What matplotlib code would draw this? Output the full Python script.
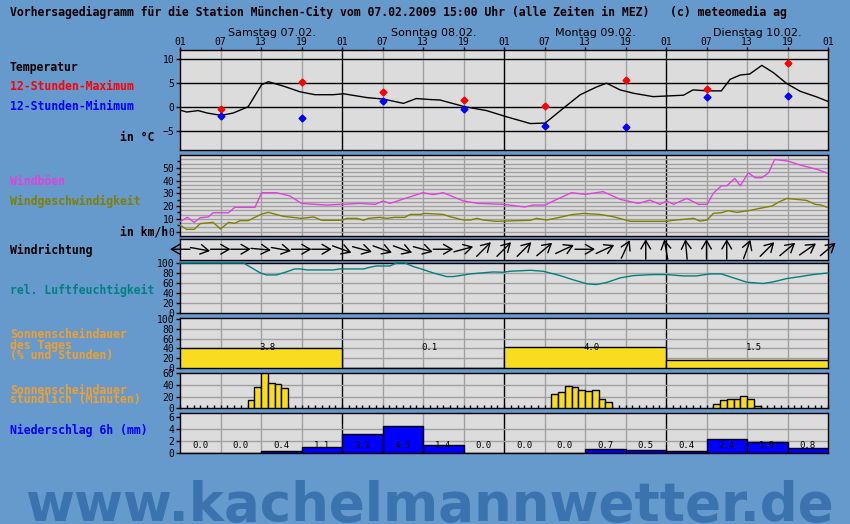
import numpy as np
import matplotlib
matplotlib.use('Agg')
import matplotlib.pyplot as plt
from matplotlib import transforms

# --- data (hours after Sat 01:00) ---
temp_h = [0, 1, 2.7, 4, 6.1, 7.9, 10.1, 12.1, 13.1, 15.3, 17.8, 20, 22.7, 24.2, 27.7, 30.1, 33.1, 35, 37,
          38.5, 42.2, 45.4, 48.4, 51.9, 54.1, 56.8, 59.3, 61.7, 63.2, 65.2, 67.2, 70.1, 74.6, 76, 77, 78.3,
          80.2, 81.5, 83, 84.4, 86.2, 87.9, 89.9, 91.9, 94.4, 96]
temp_v = [-0.7, -1.1, -0.8, -1.3, -1.8, -1.3, 0.0, 4.6, 5.2, 4.3, 3.1, 2.5, 2.5, 2.7, 1.9, 1.6, 0.7, 1.7, 1.5,
          1.4, 0.0, -0.8, -2.1, -3.5, -3.4, -0.3, 2.5, 4.1, 4.9, 3.5, 2.8, 2.1, 2.4, 3.5, 3.4, 3.3,
          3.3, 5.7, 6.6, 6.8, 8.6, 7.1, 4.8, 3.2, 2.0, 1.1]
ext_h = [6, 18, 30, 42, 54, 66, 78, 90]
tmax = [-0.4, 5.2, 3.1, 1.5, 0.2, 5.5, 3.6, 9.1]
tmin = [-1.9, -2.3, 1.25, -0.4, -4.0, -4.2, 2.1, 2.3]

gust_h = [0, 1.1, 2.1, 3, 4.2, 4.9, 7.2, 8.1, 11.1, 12.1, 14.3, 16.3, 18, 21.7, 24, 26.7, 28.9, 30.1, 31.1, 34.1,
          36, 37.5, 39, 42, 44.2, 47.9, 51.1, 52.3, 54.1, 55.3, 58, 60, 62.7, 65.2, 67.9, 69.6, 71.1, 72.1, 73.1,
          75.1, 76.8, 78.1, 79, 80.2, 81, 82.2, 83, 84.2, 85.2, 86.2, 87.2, 88.1, 90.1, 91.9, 94.4, 96]
gust_v = [7.8, 11.2, 7.3, 10.9, 11.5, 14.8, 14.8, 19, 19, 30.5, 30.5, 27.9, 22.1, 20.8, 21.4, 22.1, 21.4, 24, 22.1, 27.3,
          30.5, 29, 30.5, 24, 22.1, 21.4, 19.3, 20.8, 20.8, 24, 30.5, 29.2, 31.3, 25.3, 22.1, 24.7, 21.4, 24, 21.4,
          26, 21.4, 21.4, 30, 35.9, 35.9, 41.7, 35.9, 46.1, 42.2, 42.2, 46.1, 56.5, 55.2, 52.1, 48.7, 45.6]

wind_h = [0, 1, 2.1, 3, 4.9, 6, 7.2, 8.1, 8.9, 10.1, 12.1, 13.1, 15.3, 18, 19.8, 21, 24, 24.7, 26.2, 27.2,
          27.9, 29.6, 30.6, 31.8, 33.3, 34.1, 35.6, 36.3, 39, 40, 42, 43, 44, 44.9, 46.9, 51.9, 52.8, 54.3, 56, 58,
          59.8, 62.2, 64.2, 66.7, 70.1, 72.1, 73.1, 75.1, 76.1, 77, 78.1, 79, 80.2, 81.2, 82.5, 84.2, 85.4, 87.7,
          88.6, 89.9, 90.9, 92.8, 94.1, 95, 96]
wind_v = [5.2, 1.8, 1.8, 6.3, 7.3, 2.1, 7.3, 6.5, 8.6, 8.6, 13.8, 15.1, 12, 10.4, 11.5, 8.9, 8.9, 10.4, 10.4, 8.9,
          10.4, 11.2, 10.4, 11.2, 11.2, 13.5, 13.5, 14.3, 13.5, 11.7, 9.1, 9.1, 10.4, 9.1, 8.1, 8.9, 10.4, 9.1, 10.9, 13.3,
          14.3, 13.5, 11.7, 8.1, 8.1, 8.1, 8.9, 9.9, 10.4, 8.3, 9.1, 14.3, 14.8, 16.4, 15.1, 16.4, 17.7, 20.1,
          22.9, 26, 25.5, 24.5, 21.4, 20.8, 18.8]

# arrow direction on screen (degrees, 0 = pointing right), every 3 hours
dir_h = list(range(0, 97, 3))
wind_dir = [180, -10, 0, 0, -5, -10, 0, 0, -20, -15, -20, -20, -15, 0, 15, 45, 45, 45, 40, 25, 0, 25, 65, 90,
            100, 95, 90, 90, 70, 45, 40, 35, 40]

hum_h = [0, 9.4, 11.9, 12.8, 14.3, 15.6, 17, 17.9, 18.8, 22.7, 23.7, 27.2, 28.1, 29.1, 31.1, 32.1, 33.3, 34.6,
         35.6, 37.5, 39.5, 40.5, 43, 46.4, 47.9, 48.9, 51.9, 53.8, 56.3, 58.3, 60.3, 61.7, 63.2, 65.2, 67.2, 70.1,
         72.1, 74.6, 76.5, 78.5, 80.2, 82, 84, 86.4, 87.9, 89.9, 91.9, 93.8, 96]
hum_v = [100, 100, 80.3, 76.3, 76.3, 81.6, 88.2, 88.2, 86.2, 86.2, 88.2, 88.2, 91.4, 94.1, 94.1, 100, 100, 92.8,
         88.8, 80.3, 73, 73, 78.3, 82.2, 81.6, 83.6, 85.5, 83.6, 75, 66.4, 58.6, 57.2, 61.2, 70.4, 75, 77,
         77, 74.3, 74.3, 78.3, 78.3, 70.4, 61.8, 59.2, 62.5, 69.1, 73, 77, 80.3]

day_start = [0, 24, 48, 72]
day_names = ['Samstag 07.02.', 'Sonntag 08.02.', 'Montag 09.02.', 'Dienstag 10.02.']
sun_day_pct = [40, 1, 42.6, 16.2]
sun_day_hours = ['3.8', '0.1', '4.0', '1.5']

sun_hr_h = [10, 11, 12, 13, 14, 15, 39, 55, 56, 57, 58, 59, 60, 61, 62, 63, 79, 80, 81, 82, 83, 84, 85]
sun_hr_min = [14.3, 36, 60, 42.9, 41.1, 34.3, 1, 24, 27.4, 37.7, 36, 30.9, 29.7, 30.9, 16, 10.3,
              6.9, 14.3, 16, 16, 20.6, 16, 4]

precip_h = list(range(0, 96, 6))
precip = [0.0, 0.0, 0.4, 1.1, 3.1, 4.5, 1.4, 0.0, 0.0, 0.0, 0.7, 0.5, 0.4, 2.4, 1.9, 0.8]

hour_labels = ['01', '07', '13', '19'] * 4 + ['01']

BG = '#6699cc'
PANEL = '#dcdcdc'
GRID = '#a0a0a0'
YELLOW = '#f8dc20'
ORANGE = '#f0a030'
MAGENTA = '#dd44dd'
OLIVE = '#808000'
TEAL = '#008080'
W, H = 850, 524
MONO = 'DejaVu Sans Mono'

plt.rcParams['font.family'] = MONO

fig = plt.figure(figsize=(W / 100, H / 100), dpi=100, facecolor=BG)


def panel(y_top, y_bot, ylim):
    ax = fig.add_axes([180 / W, 1 - y_bot / H, 648 / W, (y_bot - y_top) / H])
    ax.set_facecolor(PANEL)
    ax.set_xlim(0, 96)
    ax.set_ylim(*ylim)
    for h in range(6, 96, 6):
        ax.axvline(h, color='k' if h % 24 == 0 else GRID, lw=1, zorder=1)
    ax.set_xticks([])
    for s in ax.spines.values():
        s.set_color('k')
        s.set_linewidth(1)
    ax.tick_params(axis='y', labelsize=7, length=3, pad=1, width=1)
    return ax


def hgrid(ax, vals, color=GRID):
    for v in vals:
        ax.axhline(v, color=color, lw=1, zorder=1)


# temperature
axt = panel(50, 150, (-9, 11.8))
hgrid(axt, [-5, 0, 5, 10], 'k')
axt.set_yticks([-5, 0, 5, 10])
axt.plot(temp_h, temp_v, color='k', lw=1, zorder=3)
axt.plot(ext_h, tmax, 'D', color='red', ms=3.5, zorder=4)
axt.plot(ext_h, tmin, 'D', color='blue', ms=3.5, zorder=4)
axt.set_xticks(range(0, 97, 6))
axt.set_xticklabels(hour_labels)
axt.xaxis.set_ticks_position('top')
axt.tick_params(axis='x', labelsize=7, length=2, pad=0.5, width=1)
for d, name in zip(day_start, day_names):
    axt.text(d + 13.6, 1.17, name, transform=axt.get_xaxis_transform(), ha='center', va='center',
             fontsize=8, family='DejaVu Sans')

# wind
axw = panel(155, 236, (-3.4, 60))
hgrid(axw, np.arange(0, 60, 10 / 3))
axw.set_yticks(range(0, 60, 10))
axw.set_yticks(range(0, 60, 5), minor=True)
axw.tick_params(axis='y', which='minor', length=2, width=1)
axw.plot(gust_h, gust_v, color=MAGENTA, lw=1, zorder=3)
axw.plot(wind_h, wind_v, color=OLIVE, lw=1, zorder=3)

# wind direction
axd = panel(238.5, 260, (-1, 1))
axd.set_yticks([])
for h, ang in zip(dir_h, wind_dir):
    a = np.deg2rad(ang)
    dx, dy = 10 * np.cos(a), 10 * np.sin(a)
    head = transforms.offset_copy(axd.transData, fig=fig, x=dx, y=dy, units='dots')
    tail = transforms.offset_copy(axd.transData, fig=fig, x=-dx, y=-dy, units='dots')
    axd.annotate('', xy=(h, 0), xycoords=head, xytext=(h, 0), textcoords=tail, annotation_clip=False,
                 arrowprops=dict(arrowstyle='->,head_length=0.6,head_width=0.35', color='k', lw=1,
                                 shrinkA=0, shrinkB=0))

# humidity
axh = panel(263, 313.3, (0, 100))
hgrid(axh, [20, 40, 60, 80])
axh.set_yticks(range(0, 101, 20))
axh.plot(hum_h, hum_v, color=TEAL, lw=1, zorder=3, clip_on=False)

# daily sunshine
axs = panel(318.3, 368.3, (0, 101))
hgrid(axs, [20, 40, 60, 80])
axs.set_yticks(range(0, 101, 20))
axs.bar(day_start, sun_day_pct, width=24, align='edge', color=YELLOW, edgecolor='k', lw=1, zorder=3)
for d, s in zip(day_start, sun_day_hours):
    axs.text(d + 13, 43, s, ha='center', va='center', fontsize=6.5, zorder=4)

# hourly sunshine
axm = panel(373.3, 408.3, (0, 60))
hgrid(axm, [20, 40])
axm.set_yticks(range(0, 61, 20))
axm.set_xticks(range(0, 97), minor=True)
axm.tick_params(axis='x', which='minor', direction='in', length=2.5, width=1, color='k')
axm.bar(sun_hr_h, sun_hr_min, width=1, align='edge', color=YELLOW, edgecolor='k', lw=1, zorder=3)

# precipitation
axp = panel(413.3, 453.3, (0, 6.55))
hgrid(axp, [2, 4])
axp.set_yticks([0, 2, 4, 6])
axp.bar(precip_h, precip, width=6, align='edge', color='#0000ff', edgecolor='k', lw=1, zorder=3)
for h, p in zip(precip_h, precip):
    axp.text(h + 3, 1.35, f'{p:.1f}', ha='center', va='center', fontsize=6.5, zorder=4)


def label(x, y, s, color='k', ha='left'):
    fig.text(x / W, 1 - y / H, s, color=color, ha=ha, va='center', fontsize=8.3, weight='bold')


label(10, 12, 'Vorhersagediagramm für die Station München-City vom 07.02.2009 15:00 Uhr '
              '(alle Zeiten in MEZ)   (c) meteomedia ag')
label(10, 67, 'Temperatur')
label(10, 87, '12-Stunden-Maximum', 'red')
label(10, 107, '12-Stunden-Minimum', 'blue')
label(154, 137, 'in °C', ha='right')
label(10, 181.5, 'Windböen', MAGENTA)
label(10, 201.5, 'Windgeschwindigkeit', OLIVE)
label(168, 232, 'in km/h', ha='right')
label(10, 250, 'Windrichtung')
label(10, 290, 'rel. Luftfeuchtigkeit', TEAL)
label(10, 335, 'Sonnenscheindauer', ORANGE)
label(10, 345, 'des Tages', ORANGE)
label(10, 355, '(% und Stunden)', ORANGE)
label(10, 390, 'Sonnenscheindauer', ORANGE)
label(10, 400, 'stündlich (Minuten)', ORANGE)
label(10, 430, 'Niederschlag 6h (mm)', 'blue')

# watermark, scaled to span the same width as in the picture
wm = fig.text(429 / W, 1 - 521 / H, 'www.kachelmannwetter.de', family='DejaVu Sans', weight='bold',
              fontsize=38, color='#3a73ad', ha='center', va='baseline', zorder=0)
bb = wm.get_window_extent(fig.canvas.get_renderer())
wm.set_fontsize(38 * 808 / bb.width)

fig.savefig('out.png', dpi=100, facecolor=BG)
